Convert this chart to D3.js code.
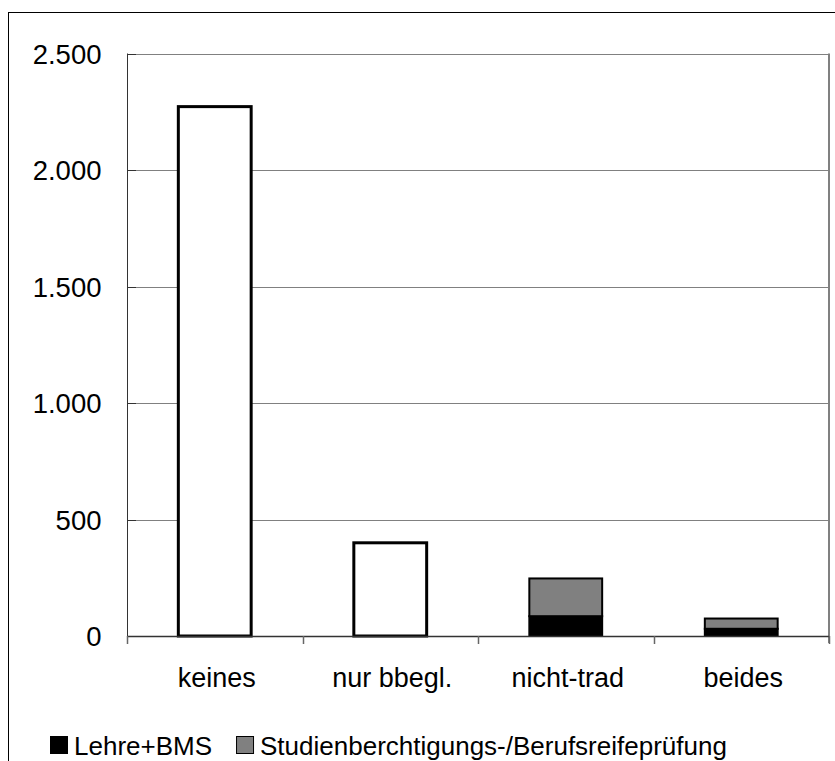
<!DOCTYPE html>
<html>
<head>
<meta charset="utf-8">
<script src="https://cdn.jsdelivr.net/npm/d3@7"></script>
<style>
  html, body { margin: 0; padding: 0; background: #fff; }
  svg { display: block; }
  text { font-family: "Liberation Sans", Arial, sans-serif; fill: #000; }
</style>
</head>
<body>
<svg id="chart" width="835" height="761"></svg>
<script>
// Kategorien und Werte
const categories = ["keines", "nur bbegl.", "nicht-trad", "beides"];
const ohneZugang = [2272, 400, 0, 0];          // weiße Balken (ohne Legendeneintrag)
const lehreBMS = [0, 0, 85, 31];                // schwarz
const studienBRP = [0, 0, 162, 44];             // grau
const yTicks = [0, 500, 1000, 1500, 2000, 2500];
const legendLabels = ["Lehre+BMS", "Studienberchtigungs-/Berufsreifeprüfung"];

const svg = d3.select("#chart");
const W = 835, H = 761;
const plot = { left: 127, right: 829, top: 53.5, bottom: 636 };

const de = d3.formatLocale({ decimal: ",", thousands: ".", grouping: [3], currency: ["", " €"] });
const fmt = de.format(",d");

// äußerer Rahmen
svg.append("rect")
  .attr("x", 8.5).attr("y", 12.5)
  .attr("width", W).attr("height", H)
  .attr("fill", "none").attr("stroke", "#000").attr("stroke-width", 1);

const x = d3.scaleBand().domain(categories).range([plot.left, plot.right]).padding(0);
const y = d3.scaleLinear().domain([0, 2500]).range([plot.bottom, plot.top]);

// Gitterlinien
svg.append("g").selectAll("line")
  .data(yTicks.filter(d => d > 0))
  .join("line")
  .attr("x1", plot.left).attr("x2", plot.right)
  .attr("y1", d => Math.round(y(d)) + 0.5).attr("y2", d => Math.round(y(d)) + 0.5)
  .attr("stroke", "#808080").attr("stroke-width", 1);

// rechte Begrenzung der Zeichenfläche
svg.append("line")
  .attr("x1", plot.right).attr("x2", plot.right)
  .attr("y1", y(2500)).attr("y2", plot.bottom + 7)
  .attr("stroke", "#808080").attr("stroke-width", 2);

// y-Achse
const yAxis = d3.axisLeft(y).tickValues(yTicks).tickFormat(fmt).tickSize(0).tickPadding(26);
const gy = svg.append("g").attr("transform", `translate(${plot.left + 0.5},0)`).call(yAxis);
gy.select(".domain").remove();
gy.selectAll("text").style("font-size", "27.5px").attr("font-family", null).attr("dy", "0.36em");
svg.append("line")
  .attr("x1", plot.left + 0.5).attr("x2", plot.left + 0.5)
  .attr("y1", y(2500)).attr("y2", plot.bottom + 8)
  .attr("stroke", "#333").attr("stroke-width", 1);
svg.append("g").selectAll("line")
  .data(yTicks)
  .join("line")
  .attr("x1", plot.left).attr("x2", plot.left + 9)
  .attr("y1", d => Math.round(y(d)) + 0.5).attr("y2", d => Math.round(y(d)) + 0.5)
  .attr("stroke", "#333").attr("stroke-width", 1);

// Balken
const barW = x.bandwidth() * 0.415;
const bx = d => x(d) + (x.bandwidth() - barW) / 2;

const stacks = [
  { name: "ohne", values: ohneZugang, fill: "#ffffff", sw: 3 },
  { name: legendLabels[0], values: lehreBMS, fill: "#000000", sw: 2 },
  { name: legendLabels[1], values: studienBRP, fill: "#808080", sw: 2 }
];
const base = categories.map(() => 0);
stacks.forEach(s => {
  const segs = categories.map((c, i) => ({ c, y0: base[i], y1: base[i] + s.values[i] }));
  segs.forEach((d, i) => base[i] = d.y1);
  svg.append("g").selectAll("rect")
    .data(segs.filter(d => d.y1 > d.y0))
    .join("rect")
    .attr("x", d => bx(d.c))
    .attr("y", d => y(d.y1))
    .attr("width", barW)
    .attr("height", d => y(d.y0) - y(d.y1))
    .attr("fill", s.fill)
    .attr("stroke", "#000")
    .attr("stroke-width", s.sw);
});

// x-Achse
svg.append("line")
  .attr("x1", plot.left).attr("x2", plot.right)
  .attr("y1", plot.bottom + 0.5).attr("y2", plot.bottom + 0.5)
  .attr("stroke", "#333").attr("stroke-width", 1.5);
const xTickPos = categories.map(c => x(c)).concat([plot.right]);
svg.append("g").selectAll("line")
  .data(xTickPos)
  .join("line")
  .attr("x1", d => Math.round(d) + 0.5).attr("x2", d => Math.round(d) + 0.5)
  .attr("y1", plot.bottom).attr("y2", plot.bottom + 8)
  .attr("stroke", "#666").attr("stroke-width", 1.5);
svg.append("g").selectAll("text")
  .data(categories)
  .join("text")
  .attr("x", d => x(d) + x.bandwidth() / 2 + 2)
  .attr("y", 687)
  .attr("text-anchor", "middle")
  .style("font-size", "27px")
  .text(d => d);

// Legende
const legendItems = [
  { label: legendLabels[0], fill: "#000000" },
  { label: legendLabels[1], fill: "#808080" }
];
const lg = svg.append("g").attr("transform", "translate(50,746)");
let lx = 0;
legendItems.forEach(item => {
  lg.append("rect")
    .attr("x", lx + 0.5).attr("y", -9.5)
    .attr("width", 17).attr("height", 17)
    .attr("fill", item.fill).attr("stroke", "#000").attr("stroke-width", 1);
  const t = lg.append("text")
    .attr("x", lx + 24).attr("y", 0)
    .attr("dy", "0.35em")
    .style("font-size", "26px")
    .text(item.label);
  lx += 24 + t.node().getComputedTextLength() + 24;
});
</script>
</body>
</html>
